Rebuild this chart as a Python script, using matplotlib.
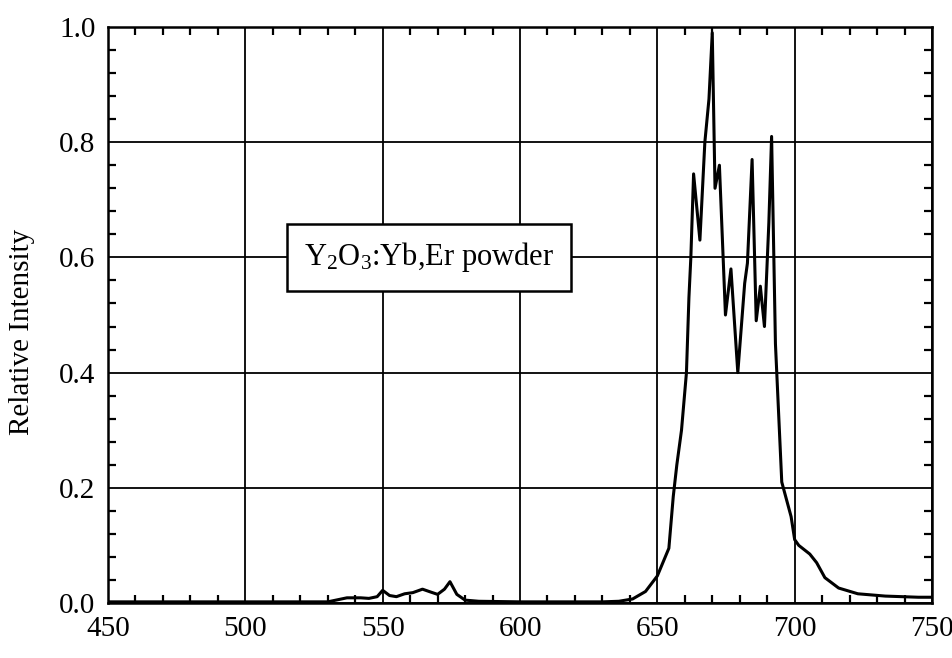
import numpy as np
import matplotlib
matplotlib.use("Agg")
import matplotlib.pyplot as plt
from matplotlib.ticker import MultipleLocator

plt.rcParams['font.family'] = ['Liberation Serif', 'DejaVu Serif']
plt.rcParams['mathtext.fontset'] = 'custom'
plt.rcParams['mathtext.rm'] = 'Liberation Serif'
plt.rcParams['mathtext.it'] = 'Liberation Serif:italic'

# emission spectrum
wavelength = [450, 500, 530, 534, 537, 542, 545, 548, 550, 552.5, 555, 558,
              561, 564.5, 567.5, 570, 572.5, 574.5, 577, 580, 585, 600, 620,
              630, 636, 641, 645.7, 650, 654.2, 655.8, 657.1, 658.8, 660.6,
              661.5, 662.2, 663.2, 665.5, 667.3, 668.8, 670.0, 671.0, 672.6,
              674.8, 676.8, 679.3, 681.8, 682.8, 684.5, 686.0, 687.5, 689.0,
              690.6, 691.6, 693.0, 695.3, 698.7, 700.0, 701.5, 705.5, 708,
              711, 716, 723, 733, 745, 750]
intensity = [0.002, 0.002, 0.002, 0.006, 0.009, 0.009, 0.008, 0.011, 0.022,
             0.013, 0.011, 0.016, 0.018, 0.024, 0.019, 0.015, 0.024, 0.037,
             0.015, 0.005, 0.003, 0.002, 0.002, 0.002, 0.003, 0.007, 0.02,
             0.047, 0.095, 0.185, 0.24, 0.3, 0.4, 0.53, 0.6, 0.745, 0.63,
             0.8, 0.875, 0.99, 0.72, 0.76, 0.5, 0.58, 0.4, 0.555, 0.59, 0.77,
             0.49, 0.55, 0.48, 0.66, 0.81, 0.45, 0.21, 0.15, 0.11, 0.1, 0.085,
             0.07, 0.044, 0.026, 0.016, 0.012, 0.01, 0.01]

x_ticks = [450, 500, 550, 600, 650, 700, 750]
y_ticks = [0.0, 0.2, 0.4, 0.6, 0.8, 1.0]
sample_label = r'Y$_{2}$O$_{3}$:Yb,Er powder'

fig, ax = plt.subplots(figsize=(9.53, 6.58), dpi=100)
fig.subplots_adjust(left=108/953, right=932/953, top=1-27/658, bottom=1-603/658)

# grid first, so the box and curve sit on top of it
ax.grid(True, which='major', color='black', linewidth=1.3)
ax.set_axisbelow(True)

ax.plot(wavelength, intensity, color='black', linewidth=2.2, zorder=3)

ax.set_xlim(450, 750)
ax.set_ylim(0, 1.0)
ax.set_xticks(x_ticks)
ax.set_yticks(y_ticks)
ax.set_yticklabels([f"{v:.1f}" for v in y_ticks])
ax.xaxis.set_minor_locator(MultipleLocator(10))
ax.yaxis.set_minor_locator(MultipleLocator(0.04))

ax.tick_params(which='both', direction='in', top=True, right=True,
               labelsize=21)
ax.tick_params(which='major', length=0, pad=9)
ax.tick_params(which='minor', length=6, width=1.6)
for s in ax.spines.values():
    s.set_linewidth(1.8)

ax.set_ylabel('Relative Intensity', fontsize=21)
ax.yaxis.set_label_coords(-0.088, 0.47)

ax.text(567, 0.60, sample_label, fontsize=22, ha='center', va='center',
        zorder=4,
        bbox=dict(boxstyle='square,pad=0.55', facecolor='white',
                  edgecolor='black', linewidth=1.8))

plt.savefig('out.png', dpi=100)
